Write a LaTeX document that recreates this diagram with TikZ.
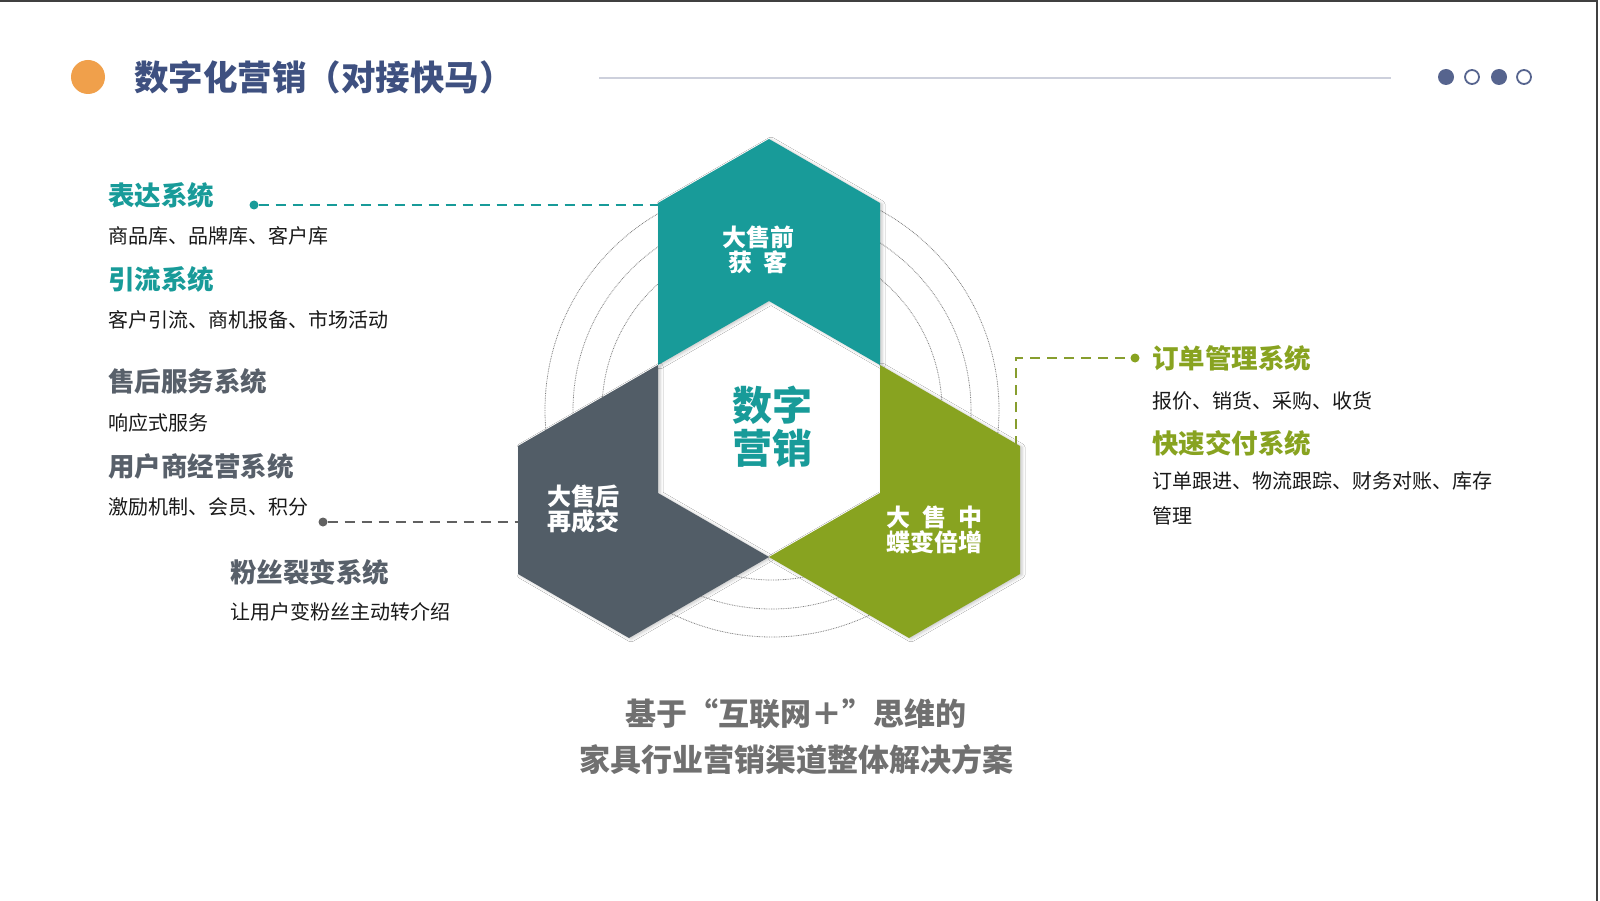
\documentclass[tikz,border=0pt]{standalone}
\usepackage{fontspec}
\setmainfont{Noto Sans CJK SC}
\usetikzlibrary{calc, positioning, shadows.blur}
\definecolor{hexTeal}{RGB}{24,155,153}
\definecolor{hexGrey}{RGB}{82,93,103}
\definecolor{hexGreen}{RGB}{136,163,32}
\definecolor{titleNavy}{RGB}{62,80,128}
\definecolor{dotNavy}{RGB}{86,100,142}
\definecolor{accentOrange}{RGB}{240,160,75}
\definecolor{headRule}{RGB}{205,208,220}
\definecolor{captionGrey}{RGB}{112,112,112}
\definecolor{headGrey}{RGB}{88,96,106}

\begin{document}
\begin{tikzpicture}[
    x=1pt, y=-1pt,
    hexpart/.style={blur shadow={shadow xshift=2pt, shadow yshift=-1pt,
                    shadow blur radius=3pt, shadow opacity=22}},
    ring/.style={draw=black!50, line width=0.8pt, dash pattern=on 0.8pt off 0.9pt},
    head/.style={anchor=west, inner sep=0pt, font=\fontsize{26.5}{30}\selectfont\bfseries},
    body/.style={anchor=west, inner sep=0pt, text=black!90, font=\fontsize{20}{24}\selectfont},
    hexlabel/.style={align=center, inner sep=0pt, text=white, font=\fontsize{24}{25}\selectfont\bfseries},
    joint/.style={circle, inner sep=0pt, minimum size=9pt},
    link/.style={line width=2.5pt, dash pattern=on 10pt off 7pt},
    pager/.style={circle, inner sep=0pt, minimum size=16pt}
]
\useasboundingbox (0,0) rectangle (1600,901);
\fill[white] (0,0) rectangle (1600,901);
\draw[line width=2pt, draw=black!75] (0,1) -- (1597,1) -- (1597,901);

% HEADER --- badge, title, rule and pager dots
\node[circle, fill=accentOrange, minimum size=34pt, inner sep=0pt] (badge) at (88,77) {};
\node[anchor=west, inner sep=0pt, text=titleNavy,
      font=\fontsize{34.5}{38}\selectfont\bfseries] (title) at (134,77) {数字化营销（对接快马）};
\draw[draw=headRule, line width=2pt] (599,78) -- (1391,78);
\foreach \x [count=\i] in {1446,1499}
  \node[pager, fill=dotNavy] (pg-full-\i) at (\x,77) {};
\foreach \x [count=\i] in {1472,1524}
  \node[pager, draw=dotNavy, line width=1.8pt, minimum size=14pt, fill=white] (pg-open-\i) at (\x,77) {};

% rings behind the three parts
\foreach \r in {170,199,227}
  \draw[ring] (772,410) circle[radius=\r];

% central hexagon corners
\coordinate (h-t)  at (769,301);
\coordinate (h-ur) at (880,365);
\coordinate (h-lr) at (880,493);
\coordinate (h-b)  at (769,557);
\coordinate (h-ll) at (658,493);
\coordinate (h-ul) at (658,365);

% TOP --- teal part
\fill[hexpart, hexTeal] (h-ul) -- ($(h-ul)+(0,-162)$) coordinate (pre-ul)
   -- ($(h-t)+(0,-162)$) -- ($(h-ur)+(0,-162)$) -- (h-ur) -- (h-t) -- cycle;
% LOWER LEFT --- grey part
\fill[hexpart, hexGrey] (h-ul) -- ($(h-ul)+(-140,81)$) coordinate (post-ul)
   -- ($(h-ll)+(-140,81)$) -- ($(h-b)+(-140,81)$) -- (h-b) -- (h-ll) -- cycle;
% LOWER RIGHT --- green part
\fill[hexpart, hexGreen] (h-ur) -- ($(h-ur)+(140,81)$) coordinate (mid-ur)
   -- ($(h-lr)+(140,81)$) -- ($(h-b)+(140,81)$) -- (h-b) -- (h-lr) -- cycle;

\node[hexlabel] (pre-label) at (758,250) {大售前\\获\hspace{0.45em}客};
\node[hexlabel] (post-label) at (583,509) {大售后\\再成交};
\node[hexlabel] (mid-label) at (934,530) {大\hspace{0.5em}售\hspace{0.5em}中\\蝶变倍增};
\node[align=center, inner sep=0pt, text=hexTeal,
      font=\fontsize{40}{43}\selectfont\bfseries] (core-label) at (772,427) {数字\\营销};

% LEFT --- before-sale and after-sale systems
\node[head, text=hexTeal] (express) at (108,195) {表达系统};
\node[body] (express-text) at (108,236) {商品库、品牌库、客户库};
\node[head, text=hexTeal] (traffic) at (108,279) {引流系统};
\node[body] (traffic-text) at (108,320) {客户引流、商机报备、市场活动};
\node[head, text=headGrey] (service) at (108,381) {售后服务系统};
\node[body] (service-text) at (108,423) {响应式服务};
\node[head, text=headGrey] (dealer) at (108,466) {用户商经营系统};
\node[body] (dealer-text) at (108,507) {激励机制、会员、积分};
\node[head, text=headGrey] (fans) at (230,572) {粉丝裂变系统};
\node[body] (fans-text) at (230,612) {让用户变粉丝主动转介绍};

\node[joint, fill=black!62] (post-joint) at (323,522) {};
\draw[link, draw=black!62] (post-joint) -- (post-joint -| post-ul);
\node[joint, fill=hexTeal] (pre-joint) at (254,205) {};
\draw[link, draw=hexTeal] (pre-joint) -- (pre-joint -| pre-ul);

% RIGHT --- in-sale systems
\node[head, text=hexGreen] (order) at (1152,358) {订单管理系统};
\node[body] (order-text) at (1152,401) {报价、销货、采购、收货};
\node[head, text=hexGreen] (deliver) at (1152,443) {快速交付系统};
\node[body, anchor=north west, align=left,
      font=\fontsize{20}{35}\selectfont] (deliver-text) at (1152,471)
  {订单跟进、物流跟踪、财务对账、库存\\管理};

\node[joint, fill=hexGreen] (mid-joint) at (1135,358) {};
\draw[link, draw=hexGreen!85!gray] ($(mid-ur)+(-4,0)$) |- (mid-joint);

% caption under the diagram
\node[align=center, inner sep=0pt, text=captionGrey,
      font=\fontsize{31}{46}\selectfont\bfseries] (caption) at (796,737)
  {基于“互联网＋”思维的\\家具行业营销渠道整体解决方案};

\end{tikzpicture}
\end{document}
